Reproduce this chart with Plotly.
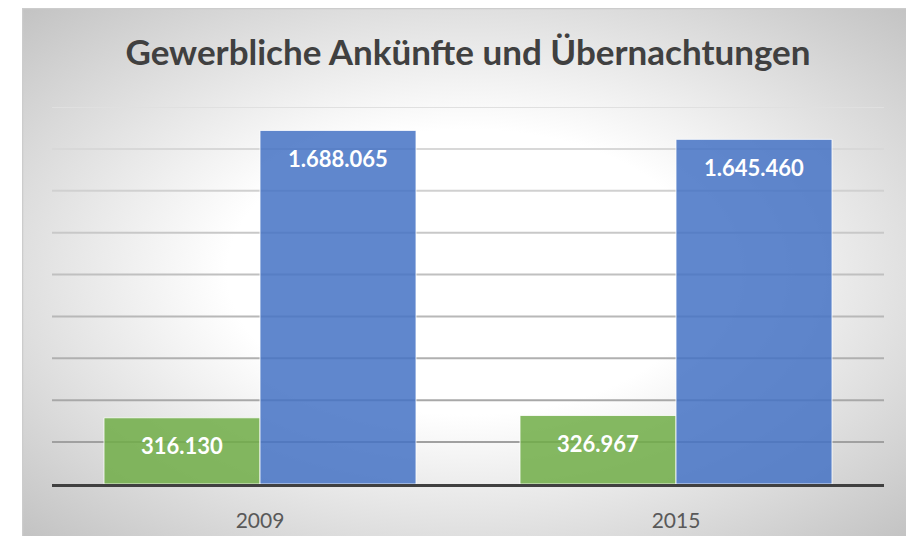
import base64
import plotly.graph_objects as go

years = ["2009", "2015"]
ankuenfte = [316130, 326967]
uebernachtungen = [1688065, 1645460]
series_names = ["Ankünfte", "Übernachtungen"]
title_text = "Gewerbliche Ankünfte und Übernachtungen"
y_max = 1800000
y_step = 200000

# page has an 8px body margin, so the figure is 906x528
W, H = 906, 528
L, R, T, B = 44, 30, 99, 52
pw, ph = W - L - R, H - T - B
BG_X0 = 14

def fmt(v):
    return f"{v:,}".replace(",", ".")

svg = (
    '<svg xmlns="http://www.w3.org/2000/svg" width="892" height="528" viewBox="0 0 892 528" preserveAspectRatio="none">'
    '<defs><radialGradient id="g" cx="50%" cy="50%" r="71%" gradientUnits="objectBoundingBox">'
    '<stop offset="0%" stop-color="#ffffff"/><stop offset="38%" stop-color="#ffffff"/>'
    '<stop offset="100%" stop-color="#c2c2c2"/>'
    '</radialGradient></defs><rect width="892" height="528" fill="url(#g)"/>'
    '<path d="M0.5 528 V0.5 H892" fill="none" stroke="#cccccc" stroke-width="1.5"/></svg>'
)
src = "data:image/svg+xml;base64," + base64.b64encode(svg.encode()).decode()

fig = go.Figure()
fig.add_trace(go.Bar(x=years, y=ankuenfte, name=series_names[0],
                     marker=dict(color="rgba(112,173,71,0.85)", line=dict(color="rgba(255,255,255,0.8)", width=1))))
fig.add_trace(go.Bar(x=years, y=uebernachtungen, name=series_names[1],
                     marker=dict(color="rgba(68,114,196,0.85)", line=dict(color="rgba(255,255,255,0.8)", width=1))))

ann = []
for i, yr in enumerate(years):
    for vals, off in [(ankuenfte, -0.1875), (uebernachtungen, 0.1875)]:
        ann.append(dict(x=i + off, y=vals[i], xref="x", yref="y", text=f"<b>{fmt(vals[i])}</b>",
                        showarrow=False, yshift=-28, font=dict(family="Lato", size=22, color="white")))

# gridlines: lighter towards the top, darker towards the bottom
shapes = []
n = y_max // y_step
for k in range(1, n + 1):
    v = k * y_step
    t = (k - 1) / (n - 1)
    c = int(160 + t * (224 - 160))
    shapes.append(dict(type="line", xref="paper", x0=0, x1=1, yref="y", y0=v, y1=v,
                       line=dict(color=f"rgb({c},{c},{c})", width=2), layer="below"))

fig.update_layout(
    width=W, height=H,
    margin=dict(l=L, r=R, t=T, b=B, autoexpand=False),
    paper_bgcolor="white", plot_bgcolor="rgba(0,0,0,0)",
    showlegend=False,
    barmode="group", bargap=0.25, bargroupgap=0,
    title=dict(text=f"<b>{title_text}</b>", x=460 / W, xanchor="center", xref="container",
               y=1 - 45 / H, yanchor="middle",
               font=dict(family="Lato", size=35, color="#404040")),
    annotations=ann,
    shapes=shapes,
    images=[dict(source=src, xref="paper", yref="paper",
                 x=(BG_X0 - L) / pw, y=1 + T / ph, sizex=(W - BG_X0) / pw, sizey=H / ph,
                 xanchor="left", yanchor="top", sizing="stretch", layer="below")],
    xaxis=dict(type="category", showline=True, linecolor="#404040", linewidth=3, automargin=False,
               ticks="outside", ticklen=16, tickcolor="rgba(0,0,0,0)",
               tickfont=dict(family="Lato", size=21, color="#595959"), showgrid=False),
    yaxis=dict(range=[0, y_max], showticklabels=False, zeroline=False, showgrid=False, automargin=False),
)
fig.write_html("out.html")
